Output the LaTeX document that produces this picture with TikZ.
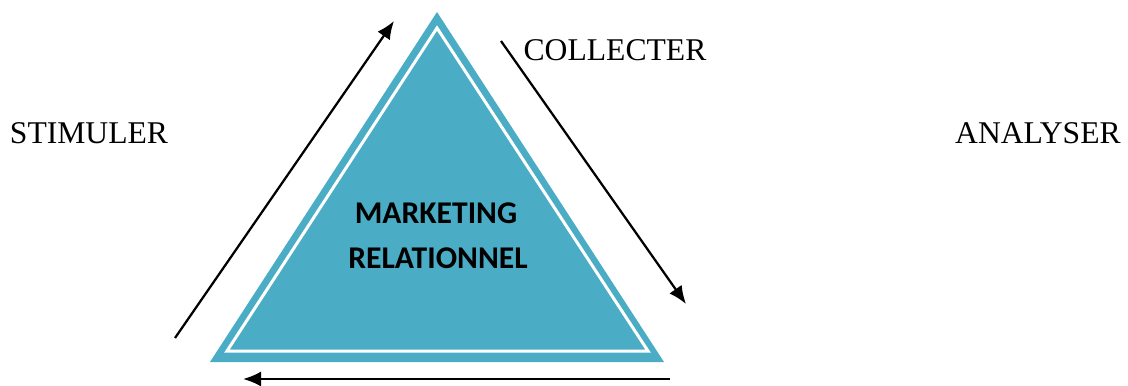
\documentclass[tikz,border=0pt]{standalone}
\usepackage{fontspec}
\setmainfont{Liberation Serif}
\newfontfamily\calibrifont{Carlito}
\usetikzlibrary{arrows.meta}
\tikzset{>={Latex[length=3.6mm,width=3mm]}}
\definecolor{triblue}{RGB}{75,172,198}
\tikzstyle{blackarrow}=[draw=black,line width=0.45mm,->]
\tikzstyle{verb}=[inner sep=0pt,font=\fontsize{18}{20}\selectfont]
\tikzstyle{titletext}=[inner sep=0pt,font=\calibrifont\bfseries\fontsize{18}{20}\selectfont]

\begin{document}
\begin{tikzpicture}
    \useasboundingbox (0,0) rectangle (22.56,7.7);
    
    % triangle
    \fill[triblue] (8.74,7.46) -- (4.2,0.46) -- (13.28,0.46) -- cycle;
    \draw[white,line width=0.6mm] (8.74,7.14) -- (4.54,0.68) -- (12.96,0.68) -- cycle;
    
    \node[titletext] (marketing) at (8.72,3.44) {MARKETING};
    \node[titletext] (relationnel) at (8.76,2.54) {RELATIONNEL};
    
    % verbs
    \node[verb] (stimuler) at (1.78,5.04) {STIMULER};
    \node[verb] (collecter) at (12.3,6.7) {COLLECTER};
    \node[verb] (analyser) at (20.76,5.04) {ANALYSER};
    
    % cycle arrows
    \coordinate (leftstart) at (3.5,0.94);
    \coordinate (leftend) at (7.88,7.28);
    \coordinate (rightstart) at (10.02,6.88);
    \coordinate (rightend) at (13.72,1.62);
    \coordinate (bottomstart) at (13.4,0.12);
    \coordinate (bottomend) at (4.86,0.12);
    \draw[blackarrow] (leftstart) -- (leftend);
    \draw[blackarrow] (rightstart) -- (rightend);
    \draw[blackarrow] (bottomstart) -- (bottomend);
\end{tikzpicture}
\end{document}
